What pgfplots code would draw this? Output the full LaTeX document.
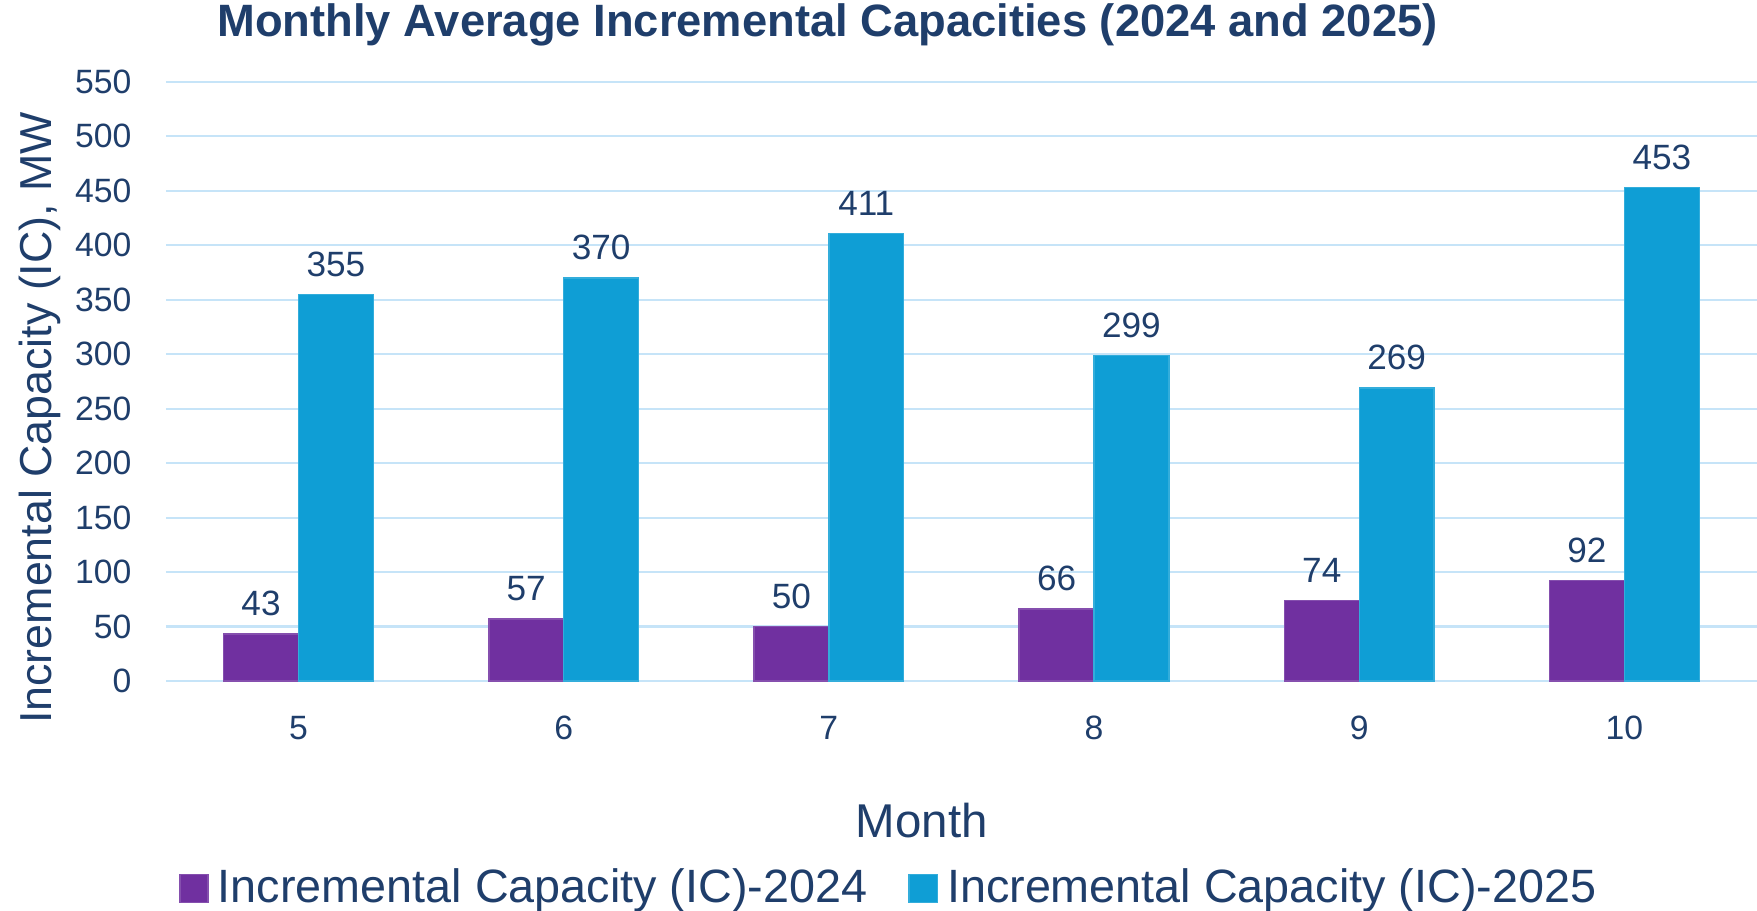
\documentclass[border=0pt]{standalone}
\usepackage{pgfplots}
\pgfplotsset{compat=1.18}
\usepackage{fontspec}
\setmainfont{Liberation Sans}
\definecolor{txt}{HTML}{1F3E6B}
\definecolor{c24}{HTML}{7030A0}
\definecolor{c25}{HTML}{0F9ED5}
\definecolor{gridc}{HTML}{C6E4F8}
\begin{document}
\begin{tikzpicture}
\path[use as bounding box] (0,0) rectangle (500pt,259pt);
\begin{axis}[
  at={(47.2pt,65.2pt)}, anchor=south west,
  width=452.8pt, height=170.5pt, scale only axis,
  ybar=0pt, bar width=21.3pt,
  xmin=4.5, xmax=10.5, ymin=0, ymax=550,
  xtick=data, ytick={0,50,...,550},
  axis line style={draw=none},
  major tick length=0pt,
  ymajorgrids, grid style={gridc, line width=0.6pt},
  tick label style={font=\fontsize{9.6}{11}\selectfont, text=txt},
  /pgf/number format/assume math mode=true,
  yticklabel style={anchor=east, inner sep=0pt, xshift=-9.6pt},
  xticklabel style={anchor=north, inner sep=0pt, yshift=-9.7pt},
  nodes near coords,
  every node near coord/.append style={font=\fontsize{10}{12}\selectfont, text=txt, anchor=south, inner sep=0pt, yshift=4.9pt},
  legend style={at={(0.456,-0.346)}, anchor=center, draw=none, legend columns=2,
    font=\fontsize{13.3}{15}\selectfont, text=txt,
    /tikz/every even column/.append style={column sep=9.7pt}},
  legend image code/.code={\fill[#1] (0pt,-4pt) rectangle (8pt,4pt); \path (8.6pt,0pt);},
]
\addplot[fill=c24, draw=c24!85!white] coordinates {(5,43) (6,57) (7,50) (8,66) (9,74) (10,92)};
\addplot[fill=c25, draw=c25!85!white] coordinates {(5,355) (6,370) (7,411) (8,299) (9,269) (10,453)};
\legend{Incremental Capacity (IC)-2024, Incremental Capacity (IC)-2025}
\end{axis}
\node[text=txt, font=\bfseries\fontsize{12.9}{15}\selectfont] at (235.5pt,251.9pt) {Monthly Average Incremental Capacities (2024 and 2025)};
\node[text=txt, font=\fontsize{12.74}{14}\selectfont, rotate=90] at (11.4pt,140.1pt) {Incremental Capacity (IC), MW};
\node[text=txt, font=\fontsize{13.5}{15}\selectfont] at (262.3pt,25.4pt) {Month};
\end{tikzpicture}
\end{document}
